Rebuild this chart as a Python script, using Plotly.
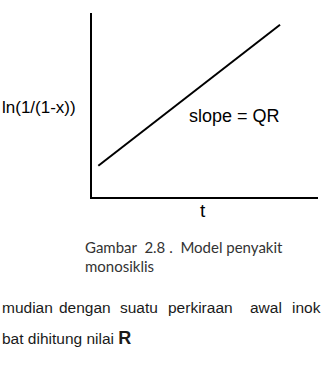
import plotly.graph_objects as go

W, H = 324, 374

# data (normalised axis units)
t_vals = [0.028, 0.832]
ln_vals = [0.170, 0.936]

y_label = "ln(1/(1-x))"
x_label = "t"
slope_label = "slope = QR"
caption_lines = ["Gambar\u00a0\u00a02.8\u00a0.\u00a0\u00a0Model penyakit", "monosiklis"]
body_line1 = [("mudian", 0), ("dengan", 57), ("suatu", 118), ("perkiraan", 166), ("awal", 248)]
body_line1_end = "inok"
body_line2 = "bat dihitung nilai <b><span style='font-size:18px'>R</span></b>"

def px(x):
    return x / W

def py(y):
    return 1 - y / H

fig = go.Figure()
fig.add_trace(go.Scatter(x=t_vals, y=ln_vals, mode="lines",
                         line=dict(color="black", width=2), showlegend=False,
                         hoverinfo="skip"))

arial = "Liberation Sans, Arial, sans-serif"
cal = "Lato, Open Sans, sans-serif"
ann = []
ann.append(dict(text=y_label, x=px(0), y=py(107), xanchor="left", yanchor="middle",
                font=dict(family=arial, size=17, color="black")))
ann.append(dict(text=slope_label, x=px(187), y=py(116), xanchor="left", yanchor="middle",
                font=dict(family=arial, size=18, color="black")))
ann.append(dict(text=x_label, x=px(203), y=py(210), xanchor="center", yanchor="middle",
                font=dict(family=arial, size=19, color="black")))
for i, line in enumerate(caption_lines):
    ann.append(dict(text=line, x=px(83), y=py(247 + 19 * i), xanchor="left", yanchor="middle",
                    font=dict(family=cal, size=15, color="#333333")))
for txt, x0 in body_line1:
    ann.append(dict(text=txt, x=px(x0), y=py(307), xanchor="left", yanchor="middle",
                    font=dict(family=arial, size=15.5, color="#1a1a1a")))
ann.append(dict(text=body_line1_end, x=px(323), y=py(307), xanchor="right", yanchor="middle",
                font=dict(family=arial, size=15.5, color="#1a1a1a")))
ann.append(dict(text=body_line2, x=px(0), y=py(338), xanchor="left", yanchor="middle",
                font=dict(family=arial, size=15.5, color="#1a1a1a")))
for a in ann:
    a.update(xref="paper", yref="paper", showarrow=False)

fig.update_layout(
    width=W, height=H, margin=dict(l=0, r=0, t=0, b=0),
    paper_bgcolor="white", plot_bgcolor="white",
    xaxis=dict(domain=[px(92), px(318)], range=[0, 1], showline=True, linecolor="black",
               linewidth=2, showgrid=False, zeroline=False, showticklabels=False, ticks=""),
    yaxis=dict(domain=[py(197), py(13)], range=[0, 1], showline=True, linecolor="black",
               linewidth=2, showgrid=False, zeroline=False, showticklabels=False, ticks=""),
    annotations=ann,
)
fig.write_html("out.html", config={"displayModeBar": False})
